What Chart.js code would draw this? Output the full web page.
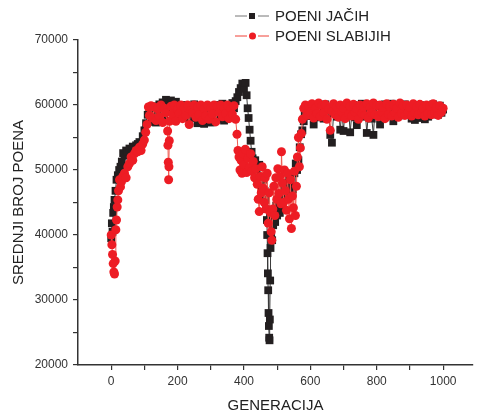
<!DOCTYPE html>
<html lang="sr">
<head>
    <meta charset="UTF-8">
    <title>Srednji broj poena po generaciji</title>
    <script src="https://cdn.jsdelivr.net/npm/chart.js"></script>
    <style>
        body {
            margin: 0;
            padding: 0;
            background: #fff;
        }
        #chart {
            display: block;
        }
    </style>
</head>
<body>
    <canvas id="chart" width="477" height="415"></canvas>
    <script>
        // POENI JAČIH (crni kvadrati)
        const jaciGen = [
            0, 2, 4, 6, 8, 10, 13, 16, 20, 24, 28, 32, 36, 40, 45, 50, 55, 60, 65, 70, 75, 80, 85, 90, 95, 100, 105, 110, 115,
            120, 125, 130, 135, 140, 145, 150, 155, 160, 165, 170, 175, 180, 185, 190, 195, 200, 205, 210, 215, 220, 225,
            230, 235, 240, 245, 250, 255, 260, 265, 270, 275, 280, 285, 290, 295, 300, 305, 310, 315, 320, 325, 330, 335,
            340, 345, 350, 355, 360, 365, 370, 375,
            380, 385, 390, 395, 400, 405, 408, 411, 414, 417, 420, 423, 426, 430, 434, 438, 442, 446, 450, 454, 458, 462,
            465, 467, 469, 470, 471, 472, 473, 474, 475, 476, 477, 478, 479, 480, 482, 485, 488, 491, 494, 497, 500, 504,
            508, 512, 516, 520, 524, 528, 532, 536, 540, 544, 548, 552, 556, 560, 564, 568, 572, 576, 580, 583,
            585, 590, 595, 600, 605, 610, 615, 620, 625, 630, 635, 640, 645, 650, 655, 660, 665, 670, 675, 680, 685, 690,
            695, 700, 705, 710, 715, 720, 725, 730, 735, 740, 745, 750, 755, 760, 765, 770, 775, 780, 785, 790, 795, 800,
            805, 810, 815, 820, 825, 830, 835, 840, 845, 850, 855, 860, 865, 870, 875, 880, 885, 890, 895, 900, 905, 910,
            915, 920, 925, 930, 935, 940, 945, 950, 955, 960, 965, 970, 975, 980, 985, 990, 995, 1000
        ];
        const jaciPoeni = [
            39500, 41800, 40500, 43400, 44300, 45400, 46800, 48500, 49200, 50000, 50500, 51300, 52600, 52200, 53000, 52800,
            53300, 53000, 53600, 53400, 53800, 54000, 54300, 54100, 55200, 56100, 57200, 58500, 59600,
            58800, 57400, 59800, 57300, 58600, 60100, 59000, 60400, 58200, 60800, 60200, 59300, 60700, 60300, 58900, 60500,
            59600, 58400, 59900, 58700, 60000, 58300, 59400, 57900, 59800, 58500, 60100, 58000, 57200, 59200, 57400, 58800,
            57100, 59500, 57600, 58900, 57300, 59700, 58400, 60000, 57800, 59300, 58600, 60200, 57600, 59100, 58300, 60000,
            59000, 60300, 59500, 60600,
            61200, 62000, 62600, 63300, 62500, 63400, 61500, 59500, 58000, 56200, 54500, 52800, 51800, 50500, 51500, 50200,
            49000, 50800, 48200, 47000, 48500, 46800, 45400, 44000, 42300, 40000, 37200, 34100, 31500, 28000, 26000, 24200,
            23800, 27000, 33000, 38000, 40000, 39200, 41500, 43000, 42000, 44500, 43000, 45000, 43400, 46000, 44500, 47400,
            45500, 48000, 46500, 49000, 47500, 48500, 47000, 49500, 51000, 50000, 51500, 53500, 55500, 56100, 57500, 59000,
            59400, 58600, 59900, 58300, 59700, 57000, 59200, 58100, 60000, 58700, 59500, 57900, 60100, 58400, 59300, 55400,
            54200, 58800, 59800, 58200, 59600, 56200, 58900, 56000, 59700, 58300, 59400, 55800, 58700, 60000, 58100, 56900,
            59500, 58600, 60200, 58200, 59300, 55700, 58800, 59900, 57900, 55400, 59600, 58400, 60000, 57000, 59300, 58600,
            60100, 58300, 59700, 58800, 60200, 57500, 59500, 58700, 60000, 58400, 59600, 58900, 60100, 58500, 59800, 58900,
            57900, 59700, 57700, 59200, 58000, 60000, 58400, 59400, 57800, 59800, 58200, 59500, 58700, 60100, 58900, 59600,
            58500, 59900, 58800, 59300
        ];

        // POENI SLABIJIH (crveni krugovi)
        const slabijiGen = [
            0, 2, 4, 6, 8, 10, 12, 14, 16, 18, 20, 22, 25, 28, 31, 35, 40, 45, 50, 55, 60, 65, 70, 75, 80, 85, 90, 95, 100,
            104, 108, 112,
            115, 120, 125, 130, 135, 140, 145, 150, 155, 160, 165, 170, 171, 172, 173, 174, 175, 176, 180, 185, 190, 195,
            200, 205, 210, 215, 220, 225, 230, 235, 240, 245, 250, 255, 260, 265, 270, 275, 280, 285, 290, 295, 300, 305,
            310, 315, 320, 325, 330, 335, 340, 345, 350, 355, 360, 365, 370, 375,
            379, 382, 385, 388, 391, 394, 397, 400, 404, 408, 412, 416, 420, 424, 428, 432, 436, 440, 443, 446, 449, 452,
            455, 458, 461, 464, 467, 470, 473, 476, 479, 482, 484, 487, 490, 493, 496, 499, 502, 505, 508, 511, 513, 516,
            519, 522, 525, 528, 531, 534, 537, 540, 543, 546, 549, 552, 555, 558, 561, 564, 567, 570, 573, 576, 580,
            585, 590, 595, 600, 605, 610, 615, 620, 625, 630, 635, 640, 645, 650, 655, 660, 665, 670, 675, 680, 685, 690,
            695, 700, 705, 710, 715, 720, 725, 730, 735, 740, 745, 750, 755, 760, 765, 770, 775, 780, 785, 790, 795, 800,
            805, 810, 815, 820, 825, 830, 835, 840, 845, 850, 855, 860, 865, 870, 875, 880, 885, 890, 895, 900, 905, 910,
            915, 920, 925, 930, 935, 940, 945, 950, 955, 960, 965, 970, 975, 980, 985, 990, 995, 1000
        ];
        const slabijiPoeni = [
            40000, 38500, 37000, 35600, 34300, 34000, 36000, 40800, 42300, 44300, 45400, 46800, 48500, 47400, 48200, 49000,
            49500, 48800, 50500, 51000, 52000, 51500, 52500, 53000, 52800, 53500, 53000, 54000, 54600, 55800, 57000, 59700,
            58400, 59900, 58000, 59700, 57600, 59400, 58200, 60000, 57300, 59500, 58800, 56000, 53800, 51200, 48500, 50500,
            54500, 57500, 59800, 58600, 60000, 57500, 59300, 58700, 60000, 57900, 59600, 58400, 60000, 57000, 59200, 58800,
            60000, 58100, 59700, 58500, 60000, 57600, 59400, 58300, 60000, 57800, 59500, 58600, 60000, 57400, 59800, 58900,
            60000, 58200, 59600, 58700, 60000, 57900, 59400, 58600, 59900, 57800,
            55500, 53000, 52000, 50000, 51500, 49500, 52500, 50800, 53200, 49600, 51800, 50400, 52500, 49800, 51300, 48800,
            50200, 47800, 45500, 43600, 49000, 46500, 50500, 47200, 45000, 48800, 44000, 49500, 41800, 46500, 43500, 40500,
            39200, 44000, 47500, 43000, 48800, 45500, 50200, 46400, 49000, 44800, 52800, 48000, 45000, 50000, 46800, 43800,
            49500, 45500, 42500, 48500, 41000, 46000, 44200, 49800, 43000, 47500, 52000, 55000, 50500, 53400, 55600, 57800,
            59500,
            60000, 58400, 59800, 58900, 60200, 58000, 59500, 58700, 60300, 58200, 59900, 58800, 60100, 57800, 59400, 56100,
            59000, 60200, 58500, 59700, 58100, 60000, 58900, 59500, 57900, 60300, 58600, 59800, 58300, 60100, 58900, 59400,
            57800, 60000, 58700, 59700, 58400, 60200, 58000, 59600, 58800, 60300, 58500, 59900, 58200, 60000, 58900, 59600,
            57900, 60200, 58600, 59800, 58300, 60100, 58800, 59500, 58100, 60300, 58700, 59900, 58400, 60000, 58900, 59600,
            58300, 60200, 58800, 59700, 58500, 60100, 58900, 59500, 58300, 60000, 58700, 59800, 58500, 60200, 58800, 59600,
            58400, 59900, 58900, 59500
        ];

        const xTicks = [0, 200, 400, 600, 800, 1000];
        const yTicks = [20000, 30000, 40000, 50000, 60000, 70000];

        const toPoints = (gen, vals) => gen.map((g, i) => ({ x: g, y: vals[i] }));

        // legenda gore desno, crta se rucno
        const legendPlugin = {
            id: 'poeniLegend',
            afterDraw(chart) {
                const ctx = chart.ctx;
                const rows = [
                    { y: 16, ds: chart.data.datasets[0] },
                    { y: 36, ds: chart.data.datasets[1] }
                ];
                ctx.save();
                rows.forEach(r => {
                    ctx.strokeStyle = r.ds.legendLine;
                    ctx.lineWidth = 1;
                    ctx.beginPath();
                    ctx.moveTo(235, r.y);
                    ctx.lineTo(247, r.y);
                    ctx.moveTo(258, r.y);
                    ctx.lineTo(269, r.y);
                    ctx.stroke();
                    ctx.fillStyle = r.ds.pointBackgroundColor;
                    if (r.ds.pointStyle === 'rect') {
                        ctx.fillRect(249, r.y - 3, 6, 6);
                    } else {
                        ctx.beginPath();
                        ctx.arc(252.5, r.y, 3.5, 0, Math.PI * 2);
                        ctx.fill();
                    }
                    ctx.fillStyle = '#222';
                    ctx.font = '15px "Liberation Sans", Arial, sans-serif';
                    ctx.textBaseline = 'middle';
                    ctx.fillText(r.ds.label, 275, r.y + 1);
                });
                ctx.restore();
            }
        };

        const axisColor = '#333';
        const tickFont = { family: '"Liberation Sans", Arial, sans-serif', size: 12 };
        const titleFont = { family: '"Liberation Sans", Arial, sans-serif', size: 15 };

        new Chart(document.getElementById('chart'), {
            type: 'line',
            data: {
                datasets: [{
                    label: 'POENI JAČIH',
                    data: toPoints(jaciGen, jaciPoeni),
                    borderColor: '#3a3a3a',
                    borderWidth: 1,
                    legendLine: '#777',
                    pointStyle: 'rect',
                    pointRadius: 5.5,
                    pointBackgroundColor: '#231f20',
                    pointBorderColor: '#231f20',
                    pointBorderWidth: 0,
                    order: 1
                }, {
                    label: 'POENI SLABIJIH',
                    data: toPoints(slabijiGen, slabijiPoeni),
                    borderColor: '#ef5a50',
                    borderWidth: 1,
                    legendLine: '#ef4136',
                    pointStyle: 'circle',
                    pointRadius: 4.5,
                    pointBackgroundColor: '#ed1c24',
                    pointBorderColor: '#ed1c24',
                    pointBorderWidth: 0,
                    order: 0
                }]
            },
            options: {
                responsive: false,
                animation: false,
                devicePixelRatio: 1,
                layout: {
                    autoPadding: false,
                    padding: { top: 40, right: 0, left: 0, bottom: 0 }
                },
                plugins: {
                    legend: { display: false },
                    tooltip: { enabled: false }
                },
                scales: {
                    x: {
                        type: 'linear',
                        min: -100,
                        max: 1090,
                        afterFit: s => { s.height = 50; },
                        afterBuildTicks: s => {
                            s.ticks = [];
                            for (let v = -100; v <= 1000; v += 100) s.ticks.push({ value: v });
                            s.ticks.push({ value: 1090 });
                        },
                        ticks: {
                            autoSkip: false,
                            maxRotation: 0,
                            padding: 4,
                            color: axisColor,
                            font: tickFont,
                            callback: v => xTicks.includes(v) ? String(v) : ''
                        },
                        grid: {
                            drawOnChartArea: false,
                            drawTicks: true,
                            tickLength: 5,
                            color: c => (c.tick && (c.tick.value < 0 || c.tick.value > 1000)) ? 'rgba(0,0,0,0)' : axisColor,
                            lineWidth: 1.2
                        },
                        border: { display: true, color: axisColor, width: 1.5 },
                        title: {
                            display: true,
                            text: 'GENERACIJA',
                            color: '#222',
                            font: titleFont,
                            padding: { top: 2, bottom: 0 }
                        }
                    },
                    y: {
                        min: 20000,
                        max: 70000,
                        afterFit: s => { s.width = 78; },
                        ticks: {
                            stepSize: 5000,
                            autoSkip: false,
                            padding: 5,
                            color: axisColor,
                            font: tickFont,
                            callback: v => yTicks.includes(v) ? String(v) : ''
                        },
                        grid: {
                            drawOnChartArea: false,
                            drawTicks: true,
                            tickLength: 5,
                            color: axisColor,
                            lineWidth: 1.2
                        },
                        border: { display: true, color: axisColor, width: 1.5 },
                        title: {
                            display: true,
                            text: 'SREDNJI BROJ POENA',
                            color: '#222',
                            font: titleFont,
                            padding: { top: 10, bottom: 0 }
                        }
                    }
                }
            },
            plugins: [legendPlugin]
        });
    </script>
</body>
</html>
